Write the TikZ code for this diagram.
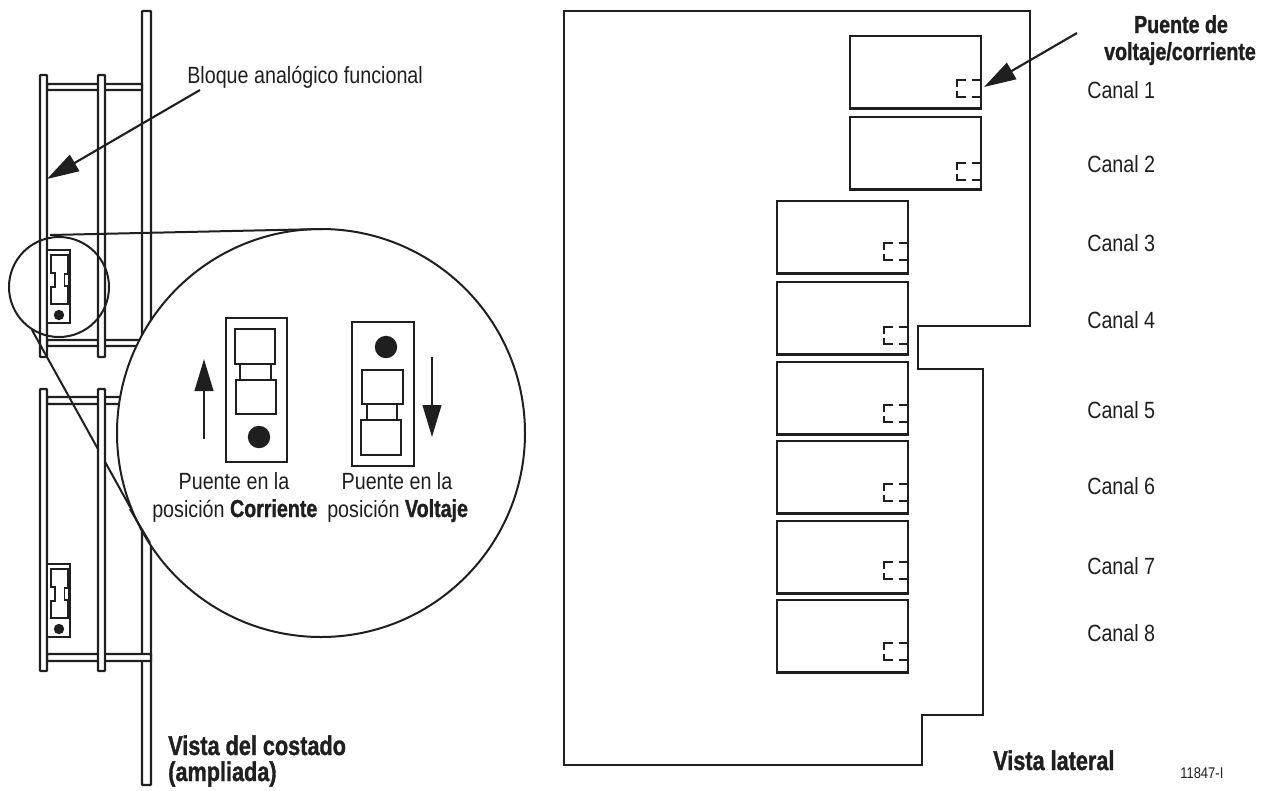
\documentclass[tikz,border=0pt]{standalone}
\usepackage{fontspec}
\setmainfont{Liberation Sans}
\newfontfamily\narrowfont[FakeStretch=0.84]{Liberation Sans}
\newfontfamily\narrowbold[FakeStretch=0.80,FakeBold=1.2]{Liberation Sans Bold}
\usetikzlibrary{arrows.meta}
\tikzset{
  ln/.style={draw=black!88,line width=1.8pt,line join=miter},
  thin ln/.style={draw=black!88,line width=1.5pt},
  bar/.style={ln,fill=white,rounded corners=0.6pt},
  thickarrow/.style={draw=black!88,line width=1.6pt,-{Triangle[length=24pt,width=14pt]}},
  dash part/.style={draw=black!88,line width=1.8pt},
  lab/.style={font=\fontsize{17.6pt}{20pt}\selectfont\narrowfont,anchor=base west,inner sep=0pt,text=black!88},
  labc/.style={lab,anchor=base},
  blab/.style={font=\fontsize{18.4pt}{20pt}\selectfont\narrowbold,anchor=base west,inner sep=0pt,text=black!88},
  blabc/.style={blab,anchor=base},
  vlab/.style={blab,font=\fontsize{20.3pt}{22pt}\selectfont\narrowbold},
  dotm/.style={fill=black!88,draw=none}
}
\newcommand{\chbox}[3]{% x left, y top, dashed top y
  \draw[ln] (#1,#2) rectangle ++(131,72.5);
  \draw[dash part] (#1+116,#3) -- (#1+107,#3) -- (#1+107,#3+7);
  \draw[dash part] (#1+107,#3+10.5) -- (#1+107,#3+17) -- (#1+116,#3+17);
  \draw[dash part] (#1+121.5,#3) -- (#1+131,#3);
  \draw[dash part] (#1+121.5,#3+17) -- (#1+131,#3+17);
}
\begin{document}
\begin{tikzpicture}[x=0.75pt,y=-0.75pt]
\useasboundingbox (0,0) rectangle (1261,790);
\draw[bar] (142,11) rectangle (151,785);
\draw[bar] (47,84) rectangle (142,90);
\draw[bar] (47,340) rectangle (142,346);
\draw[bar] (40,75) rectangle (47,357);
\draw[bar] (98,75) rectangle (105,357);
\draw[bar] (47,397) rectangle (151,404);
\draw[bar] (47,654) rectangle (151,661);
\draw[bar] (40,389) rectangle (47,671);
\coordinate (tanA) at (32,330);
\coordinate (tanB) at (150,543);
\draw[thin ln] (tanA) -- (tanB);
\draw[bar] (98,389) rectangle (105,671);
% small jumpers
\draw[ln,line width=1.5pt,fill=white] (47,250) rectangle (70,323);
\draw[ln,fill=white] (51,255) -- (68.5,255) -- (68.5,304) -- (51,304) -- (51,287) -- (55,287) -- (55,273) -- (51,273) -- cycle;
\draw[ln,line width=1.2pt,fill=white] (64.5,274) rectangle (69,286);
\fill[dotm] (59,315) circle[radius=3.9pt];
\draw[ln,line width=1.5pt,fill=white] (47,564) rectangle (70,637);
\draw[ln,fill=white] (51,569) -- (68.5,569) -- (68.5,618) -- (51,618) -- (51,601) -- (55,601) -- (55,587) -- (51,587) -- cycle;
\draw[ln,line width=1.2pt,fill=white] (64.5,588) rectangle (69,600);
\fill[dotm] (59,629) circle[radius=3.9pt];
% magnifier circles
\draw[thin ln,fill=white] (321,433) circle[radius=153pt];
\draw[thin ln] (tanB) -- (130,509);
\draw[thin ln] (59,287) circle[radius=37.5pt];
\coordinate (tanC) at (50,235);
\coordinate (tanD) at (322,229);
\draw[thin ln] (tanC) -- (tanD);
% current jumper
\draw[thin ln] (226,318) rectangle (287,462);
\draw[thin ln] (240,364) rectangle (271,380);
\draw[thin ln] (235,329) rectangle (275,364);
\draw[thin ln] (236,380) rectangle (276,414);
\fill[dotm] (259,437) circle[radius=8.4pt];
\coordinate (upA) at (204,439);
\coordinate (upB) at (204,359);
\draw[thickarrow] (upA) -- (upB);
% voltage jumper
\draw[thin ln] (352,322) rectangle (414,466);
\draw[thin ln] (367,404) rectangle (397,420);
\draw[thin ln] (362,370) rectangle (403,404);
\draw[thin ln] (361,420) rectangle (401,455);
\fill[dotm] (386,347) circle[radius=8.4pt];
\coordinate (dnA) at (432,357);
\coordinate (dnB) at (432,437);
\draw[thickarrow] (dnA) -- (dnB);
% labels left
\node[labc] (p1) at (234,489) {Puente en la};
\node[lab] (p2) at (152,517) {posición {\fontsize{18.4pt}{20pt}\selectfont\narrowbold Corriente}};
\node[labc] (p3) at (397,489) {Puente en la};
\node[lab] (p4) at (327,517) {posición {\fontsize{18.4pt}{20pt}\selectfont\narrowbold Voltaje}};
\node[lab] (blq) at (187,83) {Bloque analógico funcional};
\coordinate (blA) at (200,90);
\coordinate (blB) at (47,179);
\draw[thickarrow] (blA) -- (blB);
\node[vlab] (vc1) at (168,755) {Vista del costado};
\node[vlab] (vc2) at (168,781) {(ampliada)};
% right panel
\draw[ln] (564,11) -- (1030,11) -- (1030,326) -- (918,326) -- (918,369) -- (983,369) -- (983,715) -- (922,715) -- (922,765) -- (564,765) -- cycle;
\chbox{850}{36}{80}
\chbox{850}{117}{163}
\chbox{777}{201}{243}
\chbox{777}{282}{327}
\chbox{777}{362}{405}
\chbox{777}{441}{484}
\chbox{777}{521}{562}
\chbox{777}{600}{643}
\coordinate (pvA) at (1077,33);
\coordinate (pvB) at (984,87);
\draw[thickarrow] (pvA) -- (pvB);
\node[blabc] (pv1) at (1181,33) {Puente de};
\node[blabc] (pv2) at (1180,60) {voltaje/corriente};
\node[lab] (c1) at (1087,98) {Canal 1};
\node[lab] (c2) at (1087,172) {Canal 2};
\node[lab] (c3) at (1087,251) {Canal 3};
\node[lab] (c4) at (1087,328) {Canal 4};
\node[lab] (c5) at (1087,418) {Canal 5};
\node[lab] (c6) at (1087,494) {Canal 6};
\node[lab] (c7) at (1087,574) {Canal 7};
\node[lab] (c8) at (1087,641) {Canal 8};
\node[vlab] (vl) at (993,770) {Vista lateral};
\node[lab,font=\fontsize{11.6pt}{14pt}\selectfont\narrowfont] (num) at (1180,778) {11847-I};
\end{tikzpicture}
\end{document}
